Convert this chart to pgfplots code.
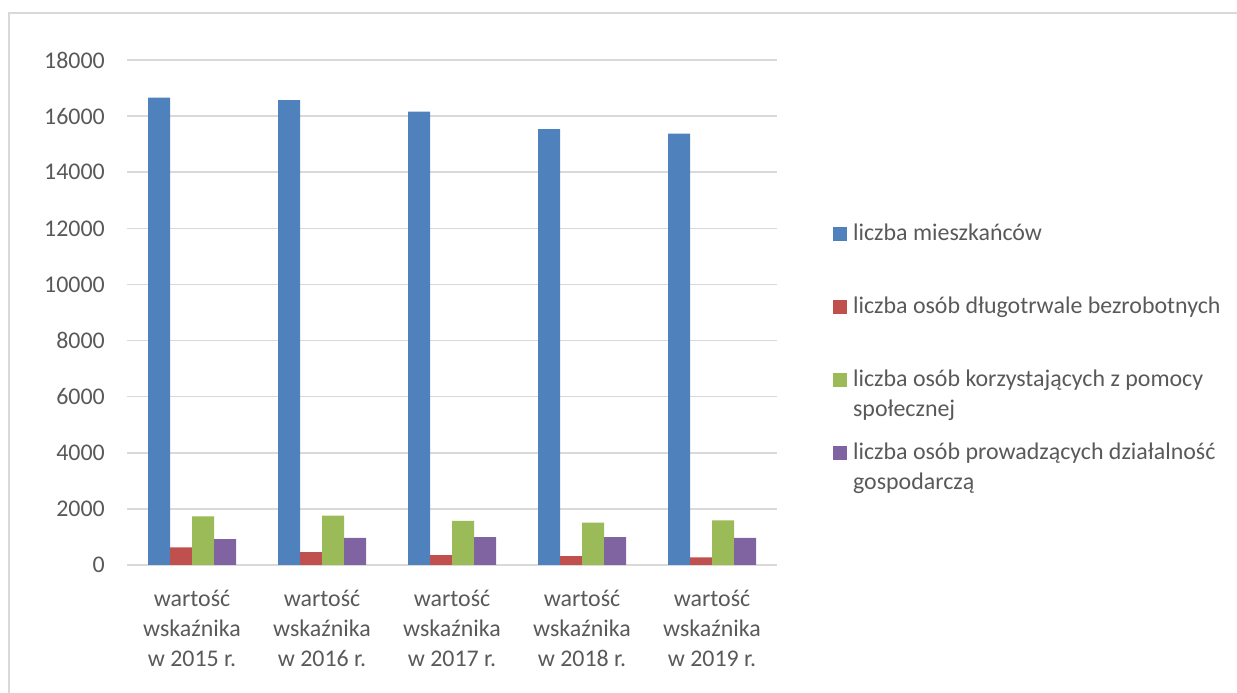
\documentclass[border=0pt]{standalone}
\usepackage{fontspec}
\setmainfont{Carlito}
\usepackage{pgfplots}
\pgfplotsset{compat=1.18}

\definecolor{txt}{HTML}{595959}
\definecolor{gridc}{HTML}{D9D9D9}
\definecolor{cblue}{HTML}{4F81BD}
\definecolor{cred}{HTML}{C0504D}
\definecolor{cgreen}{HTML}{9BBB59}
\definecolor{cviolet}{HTML}{8064A2}

\pgfplotsset{sq legend/.style={legend image code/.code={\fill[##1,draw=none] (0bp,0bp) rectangle (14bp,14bp);}}}

\newcommand{\chartfont}{\fontsize{24}{30}\selectfont}

\begin{document}
\begin{tikzpicture}
\useasboundingbox (0,0) rectangle (1237bp,693bp);
\draw[gridc, line width=1.5bp] (9bp,0bp) -- (9bp,680bp) -- (1237bp,680bp);
\begin{axis}[
  at={(127bp,128bp)}, anchor=south west,
  scale only axis, width=650bp, height=505bp,
  ybar=0pt, bar width=22bp,
  xmin=-0.5, xmax=4.5, ymin=0, ymax=18000,
  xtick={0,1,2,3,4},
  xticklabels={
    {wartość\\wskaźnika\\w 2015 r.},
    {wartość\\wskaźnika\\w 2016 r.},
    {wartość\\wskaźnika\\w 2017 r.},
    {wartość\\wskaźnika\\w 2018 r.},
    {wartość\\wskaźnika\\w 2019 r.}},
  ytick={0,2000,...,18000},
  axis line style={draw=none},
  major tick length=0pt,
  ymajorgrids,
  grid style={gridc, line width=1.5bp},
  /pgf/number format/assume math mode=true,
  /pgf/number format/1000 sep={},
  scaled y ticks=false,
  tick label style={text=txt, font=\chartfont},
  yticklabel style={anchor=east, inner sep=0pt, xshift=-22bp},
  xticklabel style={align=center, anchor=north, inner sep=0pt, yshift=-25bp},
  legend style={draw=none, fill=none, at={(1.086,0.678)}, anchor=north west,
    inner sep=0pt, row sep=20bp, column sep=6bp, font=\chartfont,
    nodes={inner sep=0pt, text height=18bp, text depth=35bp, text=txt},
    cells={anchor=base west}},
]
\addplot[fill=cblue, draw=none, sq legend] coordinates {(0,16660) (1,16570) (2,16160) (3,15540) (4,15380)};
\addlegendentry{liczba mieszkańców}
\addplot[fill=cred, draw=none, sq legend] coordinates {(0,630) (1,460) (2,350) (3,320) (4,270)};
\addlegendentry{liczba osób długotrwale bezrobotnych}
\addplot[fill=cgreen, draw=none, sq legend] coordinates {(0,1730) (1,1760) (2,1570) (3,1510) (4,1595)};
\addlegendentry{\begin{tabular}[t]{@{}l@{}}liczba osób korzystających z pomocy\\społecznej\end{tabular}}
\addplot[fill=cviolet, draw=none, sq legend] coordinates {(0,920) (1,970) (2,995) (3,995) (4,965)};
\addlegendentry{\begin{tabular}[t]{@{}l@{}}liczba osób prowadzących działalność\\gospodarczą\end{tabular}}
\end{axis}
\end{tikzpicture}
\end{document}
